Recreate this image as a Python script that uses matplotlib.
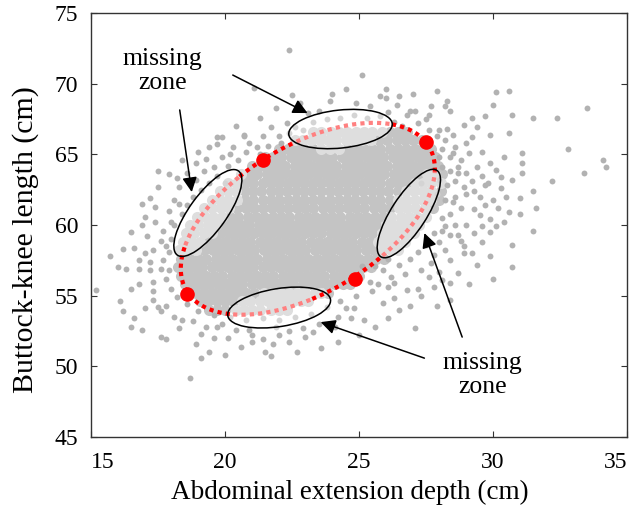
import numpy as np
import matplotlib
matplotlib.use("Agg")
import matplotlib.pyplot as plt
from matplotlib.patches import Ellipse
from matplotlib.transforms import ScaledTranslation

plt.rcParams['font.family'] = ['Liberation Serif', 'DejaVu Serif']

# Dense centre of the cloud, one row of x values per y value.
core_y = [54.0, 54.6, 55.2, 55.8, 56.4, 57.0, 57.6, 58.2, 58.8, 59.4, 60.0,
          60.6, 61.2, 61.8, 62.4, 63.0, 63.6, 64.2, 64.8, 65.4, 66.0, 66.6]
core_x = [
    "19.4 19.7 20.0 20.4 20.7 21.0 21.3 21.7 22.0 22.3",
    "19.05 19.35 19.7 20.0 20.3 20.65 20.95 21.3 21.6 21.9 22.2 22.55 22.85 23.1",
    "18.6 18.9 19.2 19.55 19.85 20.2 20.5 20.8 21.1 21.45 21.75 22.1 22.4 22.7 23.0 23.35 23.6 23.85",
    "18.5 18.8 19.1 19.4 19.75 20.05 20.35 20.65 21.0 21.3 21.6 21.95 22.25 22.55 22.9 23.2 23.5 23.8 24.1 24.4 24.65",
    "18.35 18.65 19.0 19.3 19.6 19.9 20.25 20.55 20.85 21.2 21.5 21.8 22.15 22.45 22.75 23.1 23.4 23.7 24.05 24.35 24.65 25.0",
    "18.25 18.55 18.85 19.15 19.5 19.8 20.1 20.45 20.75 21.05 21.4 21.7 22.0 22.35 22.65 22.95 23.3 23.6 23.9 24.25 24.55 24.85 25.15 25.45",
    "18.35 18.7 19.0 19.3 19.65 19.95 20.25 20.6 20.9 21.2 21.55 21.85 22.15 22.5 22.8 23.1 23.45 23.75 24.05 24.4 24.7 25.0 25.35 25.65 25.95",
    "18.3 18.6 18.9 19.2 19.55 19.85 20.15 20.5 20.8 21.1 21.45 21.75 22.05 22.4 22.7 23.0 23.35 23.65 23.95 24.3 24.6 24.9 25.25 25.55 25.85 26.2 26.45",
    "18.45 18.75 19.05 19.4 19.7 20.0 20.35 20.65 20.95 21.3 21.6 21.9 22.25 22.55 22.85 23.2 23.5 23.8 24.15 24.45 24.75 25.1 25.4 25.7 26.05 26.35 26.7",
    "18.55 18.85 19.2 19.5 19.8 20.15 20.45 20.75 21.1 21.4 21.7 22.05 22.35 22.65 23.0 23.3 23.6 23.95 24.25 24.55 24.9 25.2 25.5 25.85 26.15 26.45 26.8 27.05",
    "18.7 19.0 19.35 19.65 19.95 20.3 20.6 20.9 21.25 21.55 21.85 22.2 22.5 22.8 23.15 23.45 23.75 24.1 24.4 24.7 25.05 25.35 25.65 26.0 26.3 26.6 26.95 27.25",
    "18.95 19.25 19.55 19.9 20.2 20.5 20.85 21.15 21.45 21.8 22.1 22.4 22.75 23.05 23.35 23.7 24.0 24.3 24.65 24.95 25.25 25.6 25.9 26.2 26.55 26.85 27.15 27.5",
    "19.2 19.5 19.85 20.15 20.45 20.8 21.1 21.4 21.75 22.05 22.35 22.7 23.0 23.3 23.65 23.95 24.25 24.6 24.9 25.2 25.55 25.85 26.15 26.5 26.8 27.1 27.45 27.75",
    "19.5 19.8 20.1 20.45 20.75 21.05 21.4 21.7 22.0 22.35 22.65 22.95 23.3 23.6 23.9 24.25 24.55 24.85 25.2 25.5 25.8 26.15 26.45 26.75 27.1 27.4 27.7 28.0",
    "19.8 20.1 20.4 20.75 21.05 21.35 21.7 22.0 22.3 22.65 22.95 23.25 23.6 23.9 24.2 24.55 24.85 25.15 25.5 25.8 26.1 26.45 26.75 27.05 27.4 27.7 28.05",
    "20.1 20.45 20.75 21.05 21.4 21.7 22.0 22.35 22.65 22.95 23.3 23.6 23.9 24.25 24.55 24.85 25.2 25.5 25.8 26.15 26.45 26.75 27.1 27.4 27.7 28.05",
    "20.6 20.9 21.2 21.55 21.85 22.15 22.5 22.8 23.1 23.45 23.75 24.05 24.4 24.7 25.0 25.35 25.65 25.95 26.3 26.6 26.9 27.25 27.55 27.85 28.1",
    "21.0 21.3 21.65 21.95 22.25 22.6 22.9 23.2 23.55 23.85 24.15 24.5 24.8 25.1 25.45 25.75 26.05 26.4 26.7 27.0 27.35 27.65 27.95",
    "21.5 21.8 22.1 22.45 22.75 23.05 23.4 23.7 24.0 24.35 24.65 24.95 25.3 25.6 25.9 26.25 26.55 26.85 27.2 27.5 27.85",
    "22.0 22.35 22.65 22.95 23.3 23.6 23.9 24.25 24.55 24.85 25.2 25.5 25.8 26.15 26.45 26.75 27.1 27.4 27.7",
    "22.6 22.9 23.2 23.55 23.85 24.15 24.5 24.8 25.1 25.45 25.75 26.05 26.4 26.7 27.0 27.35",
    "23.3 23.6 23.95 24.25 24.55 24.9 25.2 25.5 25.85 26.15 26.45 26.8",
]

# Sparser points around the centre and the outliers, (x, y).
sparse_pts = [
    (22.4, 72.4), (22.5, 69.2), (21.1, 69.7), (24.5, 69.6), (25.1, 70.6), (26.0, 69.6),
    (25.8, 69.1), (26.5, 69.1), (27.9, 69.5), (30.1, 69.4), (30.6, 69.5), (33.5, 68.3),
    (32.4, 67.6), (31.5, 67.6), (30.7, 67.8), (30.0, 68.5), (32.8, 65.4), (34.1, 64.6),
    (34.2, 64.1), (33.4, 63.7), (32.2, 63.1), (31.5, 62.4), (31.0, 61.9), (31.1, 65.1),
    (31.1, 64.4), (31.1, 63.7), (30.6, 66.5), (30.4, 64.8), (30.7, 63.2), (30.3, 62.6),
    (30.1, 63.9), (29.9, 66.4), (29.7, 67.7), (29.2, 67.6), (29.4, 66.9), (29.0, 65.8),
    (29.1, 65.1), (28.7, 64.1), (29.4, 64.1), (29.6, 63.5), (29.7, 62.8), (29.2, 63.1),
    (31.6, 61.2), (31.0, 60.8), (30.2, 61.2), (30.6, 60.9), (29.9, 60.4), (29.3, 61.1),
    (28.2, 61.8), (28.4, 60.8), (28.3, 68.8), (28.2, 68.4), (28.4, 68.1), (27.7, 68.4),
    (27.6, 67.8), (26.9, 68.1), (26.8, 67.8), (27.1, 68.1), (28.0, 66.7), (28.3, 66.8),
    (28.5, 66.4), (27.9, 66.3), (28.1, 65.4), (28.6, 65.5), (28.4, 64.8), (28.0, 64.8),
    (28.1, 64.1), (28.4, 63.8), (28.7, 63.7), (28.0, 63.2), (28.3, 62.8), (29.0, 62.2),
    (28.6, 62.0), (27.9, 62.2), (31.5, 59.6), (30.7, 57.0), (29.9, 59.5), (29.6, 58.8),
    (29.2, 58.0), (28.9, 58.0), (28.9, 58.5), (28.4, 57.5), (30.1, 59.9), (28.7, 59.3),
    (28.4, 59.3), (28.0, 58.8), (28.1, 59.6), (27.8, 57.9), (27.7, 57.3), (27.3, 56.8),
    (28.0, 56.7), (28.1, 56.1), (27.8, 55.6), (27.2, 55.5), (27.3, 55.0), (28.4, 54.7),
    (26.9, 54.3), (26.3, 54.8), (26.1, 55.6), (25.7, 55.8), (25.4, 56.0), (25.1, 57.1),
    (25.6, 57.1), (25.9, 56.8), (26.2, 56.3), (27.1, 52.7), (24.8, 54.1), (25.2, 53.3),
    (24.7, 53.4), (18.7, 49.2), (19.1, 50.6), (19.4, 51.0), (20.0, 50.8), (21.5, 51.0),
    (21.7, 50.7), (22.7, 51.0), (21.0, 51.7), (21.4, 51.9), (21.8, 51.6), (22.4, 51.7),
    (23.0, 52.1), (24.2, 51.7), (17.6, 52.1), (17.8, 51.9), (16.5, 52.8), (16.9, 52.6),
    (16.6, 53.4), (18.3, 52.7), (18.4, 53.3), (19.1, 52.3), (19.3, 52.8), (19.6, 52.0),
    (20.1, 52.0), (19.7, 52.8), (18.1, 53.5), (17.8, 54.3), (17.0, 54.1), (17.5, 54.2),
    (17.3, 54.7), (16.5, 55.5), (16.8, 55.8), (17.3, 56.0), (15.2, 55.4), (16.3, 56.9),
    (16.8, 56.9), (17.2, 56.8), (17.6, 56.9), (16.8, 57.5), (17.0, 58.0), (17.3, 58.2),
    (16.9, 60.0), (17.6, 58.9), (17.8, 58.5), (17.3, 55.3), (17.6, 53.9), (20.4, 52.6),
    (21.0, 52.2), (22.0, 52.2), (22.4, 52.5), (22.9, 52.7), (23.5, 53.0), (24.2, 53.5),
    (24.5, 54.1), (17.5, 62.7), (18.3, 61.5), (17.4, 61.3), (18.0, 60.2), (17.4, 60.2),
    (17.0, 60.6), (18.6, 63.7), (19.6, 64.1), (19.9, 64.8), (19.4, 65.5), (19.7, 65.7),
    (20.3, 65.5), (20.7, 66.3), (20.9, 65.8), (21.4, 66.3), (22.0, 66.3), (22.4, 66.5),
    (22.3, 67.2), (23.9, 68.8), (19.7, 66.2), (19.9, 66.2), (20.7, 66.4), (21.7, 66.9),
    (21.2, 65.5), (18.1, 61.8), (18.3, 62.7), (23.5, 68.1), (21.9, 68.3),
    (18.8, 62.0), (19.1, 62.5), (19.4, 63.0), (18.9, 63.2), (19.2, 63.8), (19.7, 63.5),
    (20.1, 64.2), (20.5, 64.6), (20.2, 65.0), (20.8, 65.2), (21.3, 65.0), (21.6, 65.6),
    (22.1, 65.8), (22.6, 66.9), (22.9, 66.7), (23.3, 67.3), (23.8, 67.5), (24.3, 67.6),
    (24.8, 67.8), (25.3, 67.6), (25.8, 67.7), (26.3, 67.3), (26.6, 67.0), (27.2, 67.2),
    (27.6, 66.7), (28.2, 66.0), (28.5, 65.1), (28.8, 64.6), (28.6, 63.1), (28.9, 62.7),
    (28.5, 61.6), (28.8, 61.2), (28.1, 60.5), (28.6, 60.0), (28.2, 59.9), (27.8, 59.4),
    (27.5, 58.6), (27.2, 58.1), (26.9, 57.6), (26.5, 57.2), (26.1, 57.6), (26.7, 56.5),
    (26.3, 55.9), (25.5, 55.3), (24.9, 55.0), (24.3, 54.6), (23.8, 54.2), (23.2, 53.7),
    (22.6, 53.5), (22.0, 53.3), (21.4, 53.4), (20.8, 53.3), (20.2, 53.5), (19.6, 53.6),
    (19.0, 53.9), (18.6, 54.4), (18.2, 54.9), (18.0, 55.5), (17.8, 56.2), (17.9, 56.8),
    (17.7, 57.5), (17.9, 58.1), (18.0, 59.0), (17.7, 59.6), (18.1, 60.0), (18.4, 60.8),
    (18.6, 61.4), (17.9, 61.0), (18.2, 63.3), (18.9, 64.4), (19.3, 64.7), (20.0, 63.0),
    (27.3, 63.0), (29.0, 63.7), (29.3, 62.4), (29.5, 60.7), (29.0, 60.0), (29.3, 59.4),
    (28.8, 58.9), (28.2, 58.2), (27.6, 56.3), (26.8, 55.4), (26.5, 54.0), (25.9, 54.5),
    (24.1, 52.8), (23.3, 52.4), (21.9, 52.8), (20.9, 52.6), (19.9, 53.0), (18.8, 53.2),
    (17.2, 57.4), (16.6, 58.4), (17.1, 59.2), (16.5, 59.5), (16.0, 57.0), (16.2, 58.3),
    (17.2, 61.9), (16.9, 61.5), (15.7, 57.8), (16.1, 54.6), (26.0, 69.0), (24.0, 69.3),
    (27.0, 69.3), (26.4, 68.5), (25.4, 68.4), (29.6, 65.2), (29.9, 64.4), (30.3, 63.4),
    (30.0, 61.8), (29.2, 66.2), (28.9, 67.1), (27.5, 67.5), (26.1, 68.0), (24.9, 68.6),
    (23.1, 67.9), (22.8, 68.6), (21.3, 67.6), (20.4, 67.0), (19.0, 65.2), (18.4, 64.6),
    (17.9, 63.6), (17.5, 63.8), (29.5, 62.0), (29.8, 63.0), (30.5, 62.0), (29.7, 61.4),
    (30.4, 60.2), (29.6, 59.9), (30.7, 58.6), (29.9, 57.8), (29.4, 57.2), (28.7, 56.6),
    (29.1, 55.8), (28.4, 55.9), (27.9, 54.3), (26.1, 53.4), (25.6, 52.8), (30.0, 56.2),
    (20.6, 51.4), (23.6, 51.3), (18.9, 51.6), (16.2, 53.9), (25.0, 52.2),
]

# Fitted ellipse: centre and covariance-like terms.
ell_cx, ell_cy = 23.09, 60.44
ell_sxx, ell_syy, ell_sxy = 22.47, 46.09, 16.73
# Angular spans (degrees) of the full and of the missing arcs.
red_arcs = [(-2, 50), (97, 123), (166, 234), (272, 306)]
pink_arcs = [(50, 97), (123, 166), (234, 272), (306, 358)]

# Sample points on the ellipse.
dots_x = [21.4, 27.5, 18.6, 24.85]
dots_y = [64.6, 65.85, 55.1, 56.2]

# Missing zones: centre (data), width, height (inches), angle.
zones = [
    (24.31, 66.79, 1.04, 0.38, 6),
    (19.36, 60.85, 1.04, 0.37, 54),
    (26.86, 60.81, 1.03, 0.35, 57),
    (22.02, 54.16, 1.04, 0.38, 9),
]


def ellipse_arc(a0, a1):
    t = np.radians(np.linspace(a0, a1, 200))
    rx = np.sqrt(ell_sxx)
    k = ell_sxy / rx
    ry = np.sqrt(ell_syy - k ** 2)
    return ell_cx + rx * np.cos(t), ell_cy + k * np.cos(t) + ry * np.sin(t)


fig = plt.figure(figsize=(6.29, 5.11), dpi=100)
ax = fig.add_axes([91 / 629, 74 / 511, 536 / 629, 424 / 511])
ax.set_xlim(15, 35)
ax.set_ylim(45, 75)

cx, cy = [], []
for y, row in zip(core_y, core_x):
    for v in row.split():
        cx.append(float(v))
        cy.append(y)
cx, cy = np.array(cx), np.array(cy)
sp = np.array(sparse_pts)

patches = []
for x0, y0, w, h, ang in zones:
    tr = fig.dpi_scale_trans + ScaledTranslation(x0, y0, ax.transData)
    e = Ellipse((0, 0), w, h, angle=ang, transform=tr, fill=False,
                ec="black", lw=1.1, zorder=5)
    ax.add_patch(e)
    patches.append(e)


def in_zone(xs, ys):
    disp = ax.transData.transform(np.column_stack([xs, ys]))
    mask = np.zeros(len(xs), dtype=bool)
    for e in patches:
        mask |= e.contains_points(disp)
    return mask


m_core = in_zone(cx, cy)
m_sp = in_zone(sp[:, 0], sp[:, 1])

ax.scatter(cx[~m_core], cy[~m_core], s=64, color="#c4c4c4", lw=0, zorder=1)
ax.scatter(sp[~m_sp, 0], sp[~m_sp, 1], s=18, color="#b2b2b2", lw=0, zorder=2)
ax.scatter(cx[m_core], cy[m_core], s=64, color="#dedede", lw=0, zorder=1)
ax.scatter(sp[m_sp, 0], sp[m_sp, 1], s=18, color="#d4d4d4", lw=0, zorder=2)

for a0, a1 in red_arcs:
    xs, ys = ellipse_arc(a0, a1)
    ax.plot(xs, ys, color="#ff0000", lw=3, ls=(0, (1, 1)),
            dash_capstyle="butt", zorder=3)
for a0, a1 in pink_arcs:
    xs, ys = ellipse_arc(a0, a1)
    ax.plot(xs, ys, color="#ff8080", lw=3, ls=(0, (1, 1)),
            dash_capstyle="butt", zorder=3)

ax.plot(dots_x, dots_y, "o", color="#ff0000", ms=9.5, zorder=4)

arrow = dict(arrowstyle="-|>", color="black", lw=1.1, mutation_scale=22,
             shrinkA=0, shrinkB=0)
ax.annotate("", xy=(23.08, 67.92), xytext=(20.29, 70.61), arrowprops=arrow, zorder=6)
ax.annotate("", xy=(18.76, 62.33), xytext=(18.31, 68.14), arrowprops=arrow, zorder=6)
ax.annotate("", xy=(27.44, 59.43), xytext=(28.85, 52.07), arrowprops=arrow, zorder=6)
ax.annotate("", xy=(23.57, 53.13), xytext=(27.44, 50.58), arrowprops=arrow, zorder=6)

ax.text(17.68, 70.9, "missing\nzone", ha="center", va="center",
        fontsize=18.5, linespacing=1.1)
ax.text(29.6, 49.38, "missing\nzone", ha="center", va="center",
        fontsize=18.5, linespacing=1.1)

ax.set_xticks([15, 20, 25, 30, 35])
ax.set_yticks([45, 50, 55, 60, 65, 70, 75])
ax.tick_params(direction="in", top=True, right=True, length=4,
               labelsize=17, color="#333333")
ax.tick_params(axis="x", pad=11)
ax.tick_params(axis="y", pad=9)
xt = ax.get_xticklabels()
xt[0].set_horizontalalignment("left")
xt[-1].set_horizontalalignment("right")
for s in ax.spines.values():
    s.set_color("#333333")
    s.set_linewidth(1.0)

ax.set_xlabel("Abdominal extension depth (cm)", fontsize=19.5)
ax.xaxis.set_label_coords(0.483, -0.1)
ax.set_ylabel("Buttock-knee length (cm)", fontsize=21.5)
ax.yaxis.set_label_coords(-0.097, 0.465)

fig.savefig("out.png", dpi=100)
